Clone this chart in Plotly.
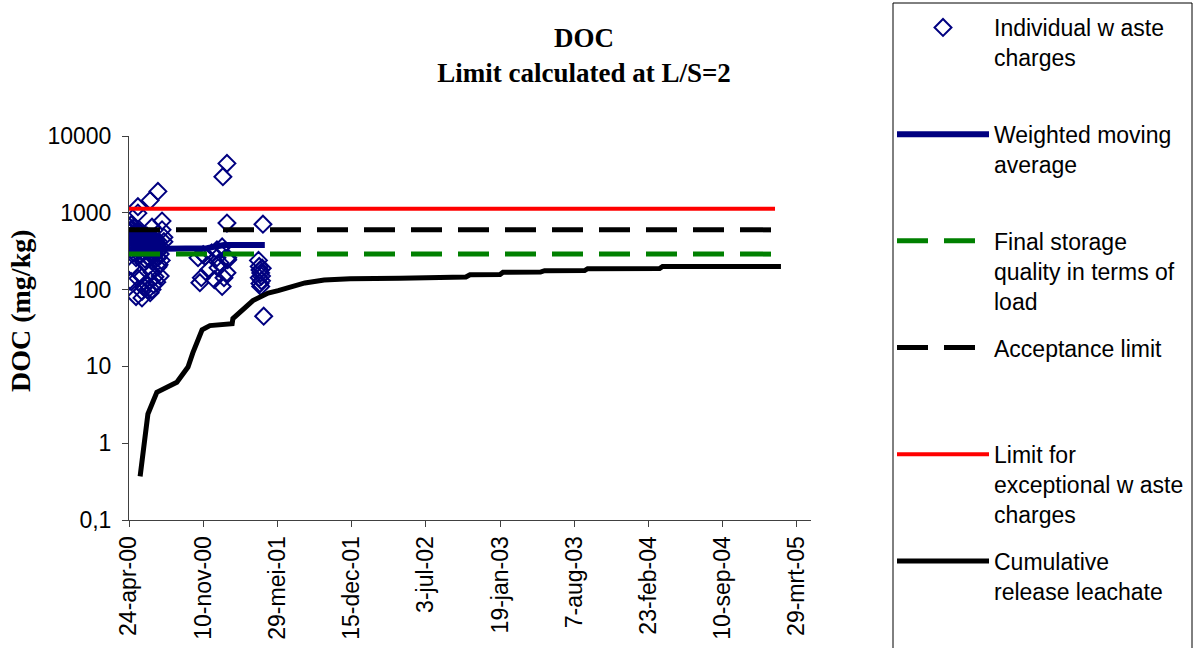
import plotly.graph_objects as go

# ---------------- data ----------------
tick_dates = ["2000-04-24", "2000-11-10", "2001-05-29", "2001-12-15", "2002-07-03",
              "2003-01-19", "2003-08-07", "2004-02-23", "2004-09-10", "2005-03-29"]
tick_labels = ["24-apr-00", "10-nov-00", "29-mei-01", "15-dec-01", "3-jul-02",
               "19-jan-03", "7-aug-03", "23-feb-04", "10-sep-04", "29-mrt-05"]

y_tickvals = [0.1, 1, 10, 100, 1000, 10000]
y_ticktext = ["0,1", "1", "10", "100", "1000", "10000"]

charge_dates = [
    "2000-04-25", "2000-04-25", "2000-04-27", "2000-04-27", "2000-04-29", "2000-04-30",
    "2000-05-02", "2000-05-02", "2000-05-04", "2000-05-07", "2000-05-07", "2000-05-07",
    "2000-05-10", "2000-05-13", "2000-05-13", "2000-05-13", "2000-05-16", "2000-05-18",
    "2000-05-18", "2000-05-18", "2000-05-18", "2000-05-21", "2000-05-24", "2000-05-24",
    "2000-05-24", "2000-05-27", "2000-05-29", "2000-05-29", "2000-05-29", "2000-06-01",
    "2000-06-03", "2000-06-03", "2000-06-03", "2000-06-06", "2000-06-09", "2000-06-09",
    "2000-06-12", "2000-06-14", "2000-06-14", "2000-06-17", "2000-06-20", "2000-06-20",
    "2000-06-20", "2000-06-20", "2000-06-23", "2000-06-25", "2000-06-25", "2000-06-25",
    "2000-06-25", "2000-06-28", "2000-06-30", "2000-06-30", "2000-07-03", "2000-07-03",
    "2000-07-06", "2000-07-08", "2000-07-08", "2000-07-11", "2000-07-11", "2000-07-11",
    "2000-07-14", "2000-07-14", "2000-07-17", "2000-07-17", "2000-07-20", "2000-07-22",
    "2000-07-22", "2000-07-27", "2000-07-27",
    "2000-04-26", "2000-04-28", "2000-04-30", "2000-05-01", "2000-05-03", "2000-05-05",
    "2000-05-08", "2000-05-09", "2000-05-11", "2000-05-14", "2000-05-15", "2000-05-19",
    "2000-05-22", "2000-05-23", "2000-05-26", "2000-05-30", "2000-06-02", "2000-06-05",
    "2000-06-08", "2000-06-11", "2000-06-16", "2000-06-19", "2000-06-22", "2000-06-27",
    "2000-07-01", "2000-07-05", "2000-07-09", "2000-07-13", "2000-07-16",
    "2000-10-27", "2000-11-01", "2000-11-05", "2000-11-10", "2000-11-15", "2000-11-25",
    "2000-12-03", "2000-12-10", "2000-12-17", "2000-12-17", "2000-12-20", "2000-12-25",
    "2000-12-31", "2000-12-31", "2001-01-02", "2001-01-05", "2001-01-13", "2001-01-13",
    "2001-01-13", "2001-01-15", "2001-01-15",
    "2001-04-08", "2001-04-10", "2001-04-10", "2001-04-12", "2001-04-12", "2001-04-14",
    "2001-04-14", "2001-04-16", "2001-04-16", "2001-04-18", "2001-04-20", "2001-04-22",
]
charge_values = [
    560, 130, 560, 480, 600, 127,
    520, 420, 360, 550, 300, 190,
    450, 380, 260, 81, 500, 1200,
    990, 330, 140, 420, 280, 550,
    156, 350, 460, 95, 78, 300,
    390, 224, 109, 250, 330, 120,
    430, 270, 100, 360, 1450, 300,
    130, 91, 240, 650, 400, 170,
    100, 330, 280, 116, 250, 147,
    360, 300, 125, 1900, 260, 198,
    330, 210, 290, 150, 240, 780,
    600, 480, 420,
    650, 400, 700, 330, 620, 470,
    400, 640, 350, 560, 420, 470,
    600, 370, 500, 380, 520, 440,
    370, 500, 420, 480, 380, 450,
    400, 430, 380, 420, 370,
    260, 123, 143, 285, 270, 181,
    300, 135, 330, 260, 192, 223,
    360, 110, 2950, 143, 4400, 735,
    166, 260, 245,
    240, 200, 143, 180, 120, 165,
    110, 150, 130, 190, 710, 45,
]

wma_dates = ["2000-04-25", "2000-05-01", "2000-05-06", "2000-05-12", "2000-05-20",
             "2000-06-01", "2000-06-15", "2000-07-01", "2000-07-27", "2000-10-27",
             "2000-11-20", "2000-12-15", "2001-01-05", "2001-04-25"]
wma_values = [600, 520, 450, 480, 420, 390, 370, 355, 340, 340, 345, 365, 380, 380]

limit_dates = ["2000-04-24", "2005-01-29"]
final_storage_values = [290, 290]
acceptance_values = [600, 600]
exceptional_values = [1130, 1130]

cum_dates = ["2000-05-24", "2000-06-14", "2000-07-08", "2000-08-31", "2000-09-30",
             "2000-10-13", "2000-11-07", "2000-11-28", "2001-01-27", "2001-01-29",
             "2001-03-24", "2001-05-04", "2001-05-31", "2001-07-02", "2001-08-11",
             "2001-10-02", "2001-12-11", "2002-04-24", "2002-10-19", "2002-10-30",
             "2003-01-19", "2003-01-27", "2003-05-08", "2003-05-19", "2003-09-04",
             "2003-09-12", "2004-03-24", "2004-04-01", "2005-02-14"]
cum_values = [0.37, 2.4, 4.6, 6.2, 9.8, 15, 30, 34, 36, 42, 72, 90, 97, 108, 122,
              133, 138, 141, 146, 156, 157, 168, 169, 176, 177, 187, 188, 200, 200]

# ---------------- figure ----------------
NAVY = "#000080"
fig = go.Figure()

fig.add_trace(go.Scatter(
    x=charge_dates, y=charge_values, mode="markers",
    name="Individual w aste<br>charges<br>\u00a0",
    marker=dict(symbol="diamond-open", size=13, color=NAVY, line=dict(width=2, color=NAVY)),
    legendgroup="a"))
fig.add_trace(go.Scatter(
    x=wma_dates, y=wma_values, mode="lines",
    name="Weighted moving<br>average<br>\u00a0",
    line=dict(color=NAVY, width=6), legendgroup="b"))
fig.add_trace(go.Scatter(
    x=limit_dates, y=final_storage_values, mode="lines",
    name="Final storage<br>quality in terms of<br>load",
    line=dict(color="#008000", width=5, dash="31px,16px"), legendgroup="c"))
fig.add_trace(go.Scatter(
    x=limit_dates, y=acceptance_values, mode="lines",
    name="Acceptance limit<br>\u00a0<br>\u00a0",
    line=dict(color="#000000", width=5, dash="31px,16px"), legendgroup="d"))
fig.add_trace(go.Scatter(
    x=limit_dates, y=exceptional_values, mode="lines",
    name="Limit for<br>exceptional w aste<br>charges",
    line=dict(color="#FF0000", width=4), legendgroup="e"))
fig.add_trace(go.Scatter(
    x=cum_dates, y=cum_values, mode="lines",
    name="Cumulative<br>release leachate",
    line=dict(color="#000000", width=5), legendgroup="f"))

L, R, T, B = 129, 386, 136, 128
W, H = 1197, 648
pw = W - L - R
ph = H - T - B


def px_x(x):
    return (x - L) / pw


def px_y(y):
    return (H - B - y) / ph


fig.update_layout(
    width=W, height=H,
    margin=dict(l=L, r=R, t=T, b=B, autoexpand=False),
    paper_bgcolor="white", plot_bgcolor="white",
    font=dict(family="Liberation Sans, Arial, sans-serif", color="black", size=23),
    showlegend=True,
    legend=dict(
        x=px_x(892), xanchor="left", y=px_y(6), yanchor="top",
        font=dict(size=23, family="Liberation Sans, Arial, sans-serif"),
        itemwidth=92, valign="top", traceorder="grouped", tracegroupgap=14,
        borderwidth=0, bgcolor="rgba(255,255,255,0)", maxheight=700,
        itemclick=False, itemdoubleclick=False,
    ),
    title=dict(
        text="<b>DOC</b><br><b>Limit calculated at L/S=2</b>",
        font=dict(family="Liberation Serif, Times New Roman, serif", size=27, color="black"),
        x=px_x(584), xref="paper", xanchor="center",
        y=1 - 47 / H, yref="container", yanchor="top",
    ),
    xaxis=dict(
        type="date", range=["2000-04-24", "2005-05-06"],
        tickvals=tick_dates, ticktext=tick_labels, tickangle=-90,
        ticks="outside", ticklen=6, tickcolor="#404040",
        showline=True, linecolor="#404040", linewidth=1,
        showgrid=False, zeroline=False,
        tickfont=dict(size=23),
    ),
    yaxis=dict(
        type="log", range=[-1, 4],
        tickvals=y_tickvals, ticktext=y_ticktext,
        ticks="outside", ticklen=6, tickcolor="#404040",
        showline=True, linecolor="#404040", linewidth=1,
        showgrid=False, zeroline=False, ticklabelstandoff=6,
        tickfont=dict(size=23),
    ),
    shapes=[dict(
        type="rect", xref="paper", yref="paper",
        x0=px_x(893), x1=px_x(1192), y0=px_y(3), y1=px_y(670),
        line=dict(color="black", width=1), fillcolor="rgba(0,0,0,0)", layer="below",
    )],
    annotations=[dict(
        text="<b>DOC (mg/kg)</b>", textangle=-90,
        xref="paper", yref="paper", x=px_x(20), y=px_y(311),
        xanchor="center", yanchor="middle", showarrow=False,
        font=dict(family="Liberation Serif, Times New Roman, serif", size=28, color="black"),
    )],
)

fig.write_html("out.html", config={"displayModeBar": False},
               post_script="document.body.style.margin='0';")
